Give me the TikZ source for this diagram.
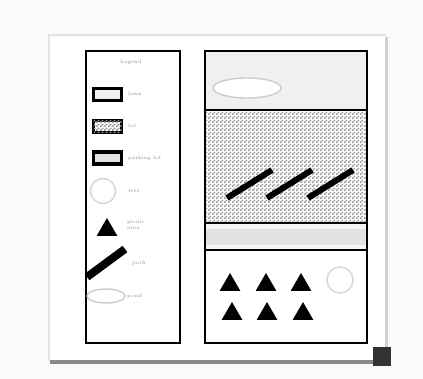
\documentclass[tikz,border=0pt]{standalone}
\usepackage{tikz}
\usetikzlibrary{shapes.geometric,patterns}
\definecolor{mapshade}{RGB}{137,137,137}
\definecolor{mapband}{RGB}{226,226,226}
\definecolor{maplight}{RGB}{240,240,240}
\definecolor{mapbg}{RGB}{250,250,250}
\definecolor{mapkey}{RGB}{140,140,140}
\definecolor{mapdot}{RGB}{150,150,150}
\pgfdeclarepatternformonly{grain}{\pgfpointorigin}{\pgfqpoint{4pt}{4pt}}{\pgfqpoint{4pt}{4pt}}{%
  \pgfpathrectangle{\pgfpointorigin}{\pgfqpoint{2pt}{2pt}}%
  \pgfpathrectangle{\pgfqpoint{2pt}{2pt}}{\pgfqpoint{2pt}{2pt}}%
  \pgfusepath{fill}}

\begin{document}
\begin{tikzpicture}[x=1pt,y=-1pt,
  pnl/.style={draw=black,line width=2.8pt},
  key/.style={draw=black,line width=3.2pt,minimum width=28pt,minimum height=12pt,inner sep=0pt},
  lbl/.style={font=\fontsize{5}{5.5}\selectfont,text=mapkey,anchor=west,inner sep=0pt,align=left},
  tri/.style={regular polygon,regular polygon sides=3,fill=black,minimum size=24pt,inner sep=0pt},
  ring/.style={circle,draw=gray!30,line width=1.6pt,minimum size=25pt,inner sep=0pt},
  oval/.style={ellipse,draw=gray!40,fill=white,line width=1.4pt,inner sep=0pt},
  dotfill/.style={fill=white,postaction={pattern=grain,pattern color=mapdot}},
  walk/.style={line width=6pt,black}]
\useasboundingbox (0,0) rectangle (423,379);
% page and shadow
\fill[mapbg] (0,0) rectangle (423,379);
\fill[white] (50,37) rectangle (385,361);
\draw[gray!22,line width=2pt] (48.5,361) -- (48.5,35.5) -- (386,35.5);
\fill[mapshade] (50,360) rectangle (386,364);
\fill[gray!35] (385,37) rectangle (388,361);
\fill[black!80] (373,347) rectangle (391,366);

% legend
\draw[pnl] (86,51) rectangle (180,343);
\node[lbl,anchor=center] (title) at (131,62) {Legend};
\node[key,fill=maplight] (k1) at (107.5,94.5) {};
\node[lbl] (t1) at (128,94) {lawn};
\node[key,dotfill] (k2) at (107.5,126.5) {};
\node[lbl] (t2) at (128,126) {lot};
\node[key,fill=mapband] (k3) at (107.5,158) {};
\node[lbl] (t3) at (128,158) {parking lot};
\node[ring] (k4) at (103,191) {};
\node[lbl] (t4) at (128,191) {tree};
\node[tri] (k5) at (107,230) {};
\node[lbl] (t5) at (127,225) {picnic\\area};
\coordinate (p1) at (87,277);
\coordinate (p2) at (125,249);
\draw[line width=8pt] (p1) -- (p2);
\node[lbl] (t6) at (132,263) {path};
\node[oval,minimum width=38pt,minimum height=14pt] (k7) at (106,296) {};
\node[lbl] (t7) at (127,296) {pond};

% map
\fill[maplight] (205,51) rectangle (367,110);
\fill[dotfill] (205,110) rectangle (367,223);
\fill[mapband] (205,223) rectangle (367,250);
\fill[gray!7] (205,223) rectangle (367,229);
\fill[gray!7] (205,245) rectangle (367,250);
\node[oval,minimum width=68pt,minimum height=20pt] (pond) at (247,88) {};
\foreach \x in {0,40,81}
  \draw[walk] (227+\x,198) -- (272+\x,170);
\foreach \x/\n in {230/a,266/b,301/c} \node[tri] (r\n) at (\x,285) {};
\foreach \x/\n in {232/d,267/e,303/f} \node[tri] (s\n) at (\x,314) {};
\node[ring,minimum size=26pt] (tree) at (340,280) {};
\draw[pnl] (205,51) rectangle (367,343);
\draw[pnl] (205,110) -- (367,110);
\draw[pnl] (205,223) -- (367,223);
\draw[pnl] (205,250) -- (367,250);
\end{tikzpicture}
\end{document}
